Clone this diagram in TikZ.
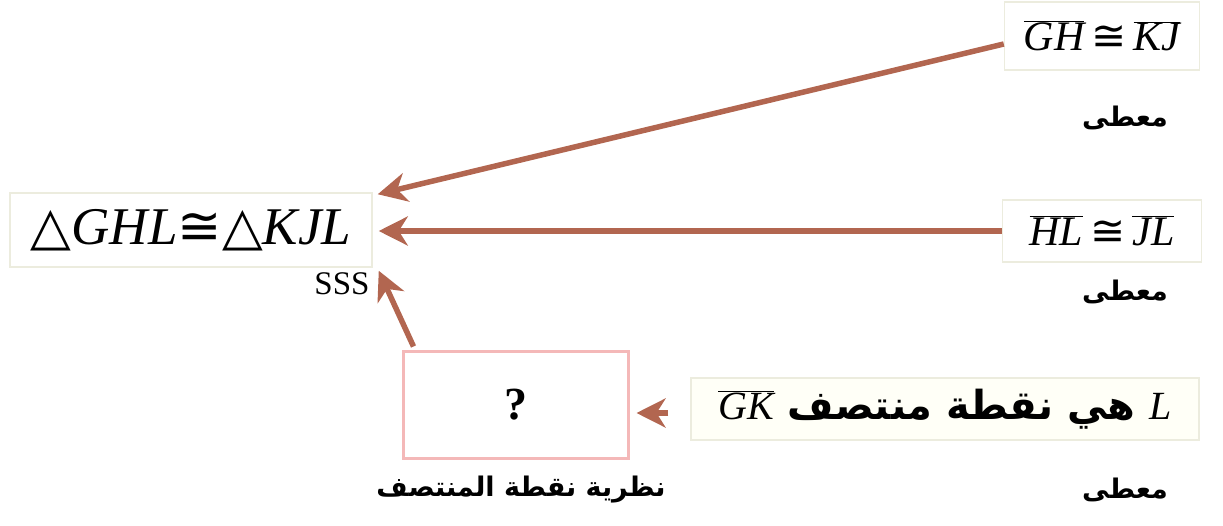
\documentclass[tikz,border=0pt]{standalone}
\usepackage{fontspec}
\setmainfont{Liberation Serif}
\newfontfamily\arabicfont[Script=Arabic]{DejaVu Sans}
\newfontfamily\symfont{DejaVu Serif}
\newfontfamily\relfont{DejaVu Sans}
\TeXXeTstate=1
\usetikzlibrary{arrows.meta}
\definecolor{arrowbrown}{RGB}{178,102,80}
\definecolor{framebeige}{RGB}{236,236,222}
\definecolor{framepink}{RGB}{244,184,184}
% an overlined segment name in roman italic, whatever the surrounding font
\newcommand{\seg}[1]{\ensuremath{\overline{\mbox{\normalfont\itshape #1}}}}
\newcommand{\tri}{{\symfont △}}
\newcommand{\cng}{{\relfont\mdseries ≅}}
\tikzset{
  stmt/.style={draw=framebeige, line width=1.5pt, fill=white, inner sep=0pt},
  ask/.style={draw=framepink, line width=3pt, fill=white, inner sep=0pt},
  reason/.style={font=\arabicfont\bfseries\fontsize{27}{30}\selectfont, inner sep=0pt},
  arr/.style={draw=arrowbrown, line width=5.5pt, -{Stealth[length=29pt,width=29pt,inset=9pt]}},
}
\begin{document}
\begin{tikzpicture}[x=1pt,y=-1pt]
  \useasboundingbox (0,0) rectangle (1223,526);

  % statements
  \node[stmt, minimum width=362pt, minimum height=74pt,
        font=\fontsize{53}{56}\selectfont] (main) at (191,230)
        {\tri\textit{GHL}\cng\tri\textit{KJL}};
  \node[stmt, minimum width=195pt, minimum height=68pt,
        font=\fontsize{42}{46}\selectfont] (gh) at (1102,36)
        {\seg{GH}\,\cng\,\seg{KJ}};
  \node[stmt, minimum width=199pt, minimum height=62pt,
        font=\fontsize{42}{46}\selectfont] (hl) at (1102,231)
        {\seg{HL}\,\cng\,\seg{JL}};
  \node[stmt, minimum width=508pt, minimum height=62pt, fill=white!97!yellow,
        font=\fontsize{40}{44}\selectfont] (mid) at (945,409)
        {\arabicfont\bfseries\beginR \textnormal{\itshape L} هي نقطة منتصف \seg{GK}\endR};
  \node[ask, minimum width=225pt, minimum height=106pt,
        font=\bfseries\fontsize{46}{50}\selectfont] (q) at (515.5,405) {?};

  % reasons
  \node[reason] (r1) at (1125,118) {\beginR معطى\endR};
  \node[reason] (r2) at (1125,292) {\beginR معطى\endR};
  \node[reason] (r3) at (1125,490) {\beginR معطى\endR};
  \node[reason] (r4) at (521,490) {\beginR نظرية نقطة المنتصف\endR};
  \node[anchor=north east, inner sep=0pt, font=\fontsize{33}{36}\selectfont]
        (sss) at ([xshift=-3pt,yshift=-5pt]main.south east) {SSS};

  % connectors
  \draw[arr] ([yshift=-8pt]gh.west) -- ([xshift=5pt,yshift=-2pt]main.north east);
  \draw[arr, shorten >=6pt] (hl.west) -- (main.east |- hl.west);
  \draw[arr] ([xshift=12pt,yshift=4pt]q.north west) -- ([xshift=6pt,yshift=-3pt]main.south east);
  \draw[arr, shorten <=22pt, shorten >=7pt] (mid.west |- 0,413) -- (q.east |- 0,413);
\end{tikzpicture}
\end{document}
